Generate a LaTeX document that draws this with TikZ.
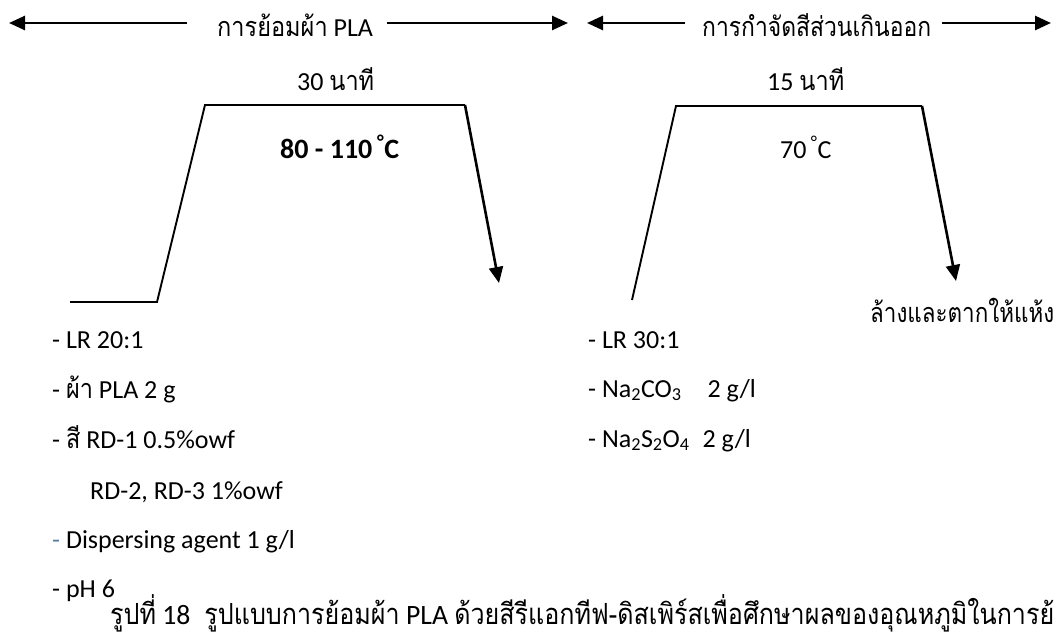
\documentclass[tikz,border=0pt]{standalone}
\usepackage{graphicx}
\usepackage{fontspec}
\setmainfont{Carlito}
\newfontfamily\thf[Script=Thai,FakeStretch=0.87,Scale=1.04]{Loma}
\usetikzlibrary{arrows.meta}
\definecolor{dashblue}{RGB}{95,125,165}
\begin{document}
\begin{tikzpicture}[x=1pt,y=-1pt,
  txt/.style={inner sep=0pt, anchor=base west, font=\fontsize{26}{30}\selectfont},
  captxt/.style={inner sep=0pt, anchor=base west, font=\fontsize{28}{34}\selectfont},
  arr/.style={line width=2.6pt, -{Triangle[length=16pt,width=14pt]}},
  prof/.style={line width=1.9pt, line join=miter}]
\useasboundingbox (0,0) rectangle (1057,637);
% top headings
\node[txt] (h1) at (217,36) {{\thf การย้อมผ้า} PLA};
\node[txt] (h2) at (702,36) {\resizebox{229pt}{\height}{\thf การกำจัดสีส่วนเกินออก}};
\coordinate (h1l) at (187,23);
\coordinate (h1r) at (387,23);
\coordinate (h1lt) at (9,23);
\coordinate (h1rt) at (568,23);
\coordinate (h2l) at (685,23);
\coordinate (h2r) at (942,23);
\coordinate (h2lt) at (587,23);
\coordinate (h2rt) at (1051,23);
\draw[arr] (h1l) -- (h1lt);
\draw[arr] (h1r) -- (h1rt);
\draw[arr] (h2l) -- (h2lt);
\draw[arr] (h2r) -- (h2rt);
% times and temperatures
\node[txt] (t1) at (297,90) {30 {\thf นาที}};
\node[txt] (t2) at (767,90) {15 {\thf นาที}};
\node[txt, font=\fontsize{28}{32}\selectfont] (T1) at (280,158) {\bfseries 80 - 110\,\textsuperscript{°}C};
\node[txt] (T2) at (780,158) {70\,\textsuperscript{°}C};
% profile 1
\coordinate (a0) at (70,302);
\coordinate (a1) at (157,302);
\coordinate (a2) at (205,105);
\coordinate (a3) at (465,105);
\coordinate (a4) at (499,283);
\draw[prof] (a0) -- (a1) -- (a2) -- (a3);
\draw[arr] (a3) -- (a4);
% profile 2
\coordinate (b1) at (632,300);
\coordinate (b2) at (676,106);
\coordinate (b3) at (922,106);
\coordinate (b4) at (956,281);
\draw[prof] (b1) -- (b2) -- (b3);
\draw[arr] (b3) -- (b4);
\node[txt] (wash) at (870,322) {\resizebox{184pt}{\height}{\thf ล้างและตากให้แห้ง}};
% left list
\node[txt] (l1) at (52,348) {- LR 20:1};
\node[txt] (l2) at (52,398) {- {\thf ผ้า} PLA 2 g};
\node[txt] (l3) at (52,448) {- {\thf สี} RD-1 0.5\%owf};
\node[txt] (l4) at (90,499) {RD-2, RD-3 1\%owf};
\node[txt] (l5) at (52,548) {{\color{dashblue}-} Dispersing agent 1 g/l};
\node[txt] (l6) at (52,597) {- pH 6};
% right list
\node[txt] (r1) at (588,348) {- LR 30:1};
\node[txt] (r2) at (588,397) {- Na\textsubscript{2}CO\textsubscript{3}\quad 2 g/l};
\node[txt] (r3) at (588,447) {- Na\textsubscript{2}S\textsubscript{2}O\textsubscript{4}\enspace 2 g/l};
% caption
\node[captxt] (caption) at (110,624) {\resizebox{944pt}{\height}{{\thf รูปที่} 18\enspace{\thf รูปแบบการย้อมผ้า} PLA {\thf ด้วยสีรีแอกทีฟ-ดิสเพิร์สเพื่อศึกษาผลของอุณหภูมิในการย้}}};
\end{tikzpicture}
\end{document}
